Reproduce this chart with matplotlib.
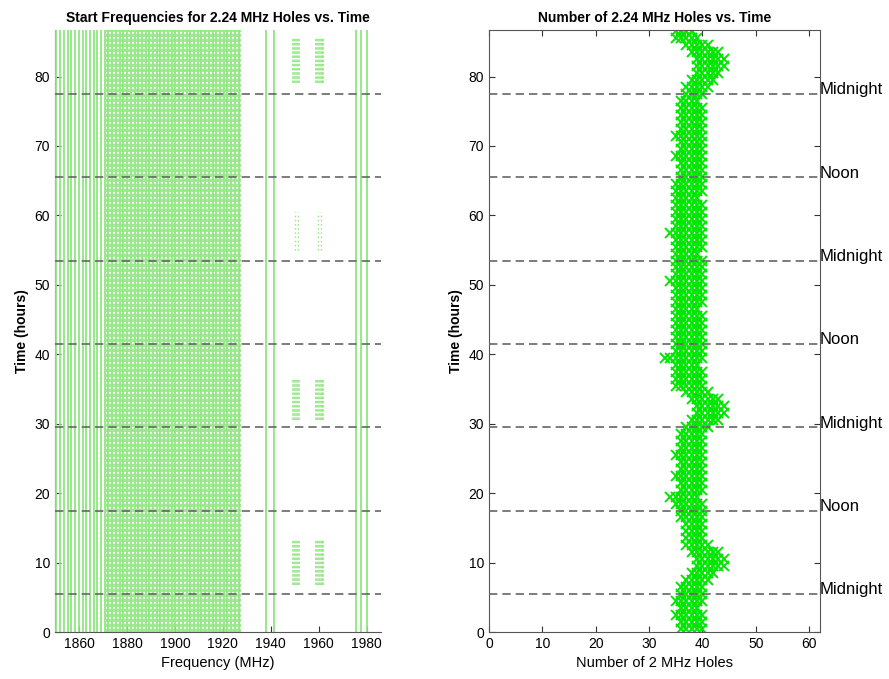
import numpy as np
import matplotlib
matplotlib.use("Agg")
import matplotlib.pyplot as plt
from matplotlib.transforms import blended_transform_factory

plt.rcParams['font.family'] = ['Liberation Sans', 'DejaVu Sans']

# ---- left panel: start frequencies (MHz) of the holes ----
# columns seen over the whole run (solid lines)
solid_freqs = [1850.6, 1852.2, 1853.7, 1855.3, 1856.8, 1858.4, 1859.9, 1861.5,
               1863.0, 1864.6, 1866.1, 1867.7, 1869.2,
               1870.8, 1872.3, 1873.9, 1875.4, 1877.0, 1878.5, 1880.1, 1881.6,
               1883.2, 1884.7, 1886.3, 1887.8, 1889.4, 1890.9, 1892.5, 1894.0,
               1895.6, 1897.1, 1898.7, 1900.2, 1901.8, 1903.3, 1904.9, 1906.4,
               1908.0, 1909.5, 1911.1, 1912.6, 1914.2, 1915.7, 1917.3, 1918.8,
               1920.4, 1921.9, 1923.5, 1925.0, 1926.6,
               1938.0, 1941.5, 1975.5, 1977.5, 1980.0]
# in-between columns of the busy band, seen on and off
dotted_freqs = [1871.6, 1873.1, 1874.7, 1876.2, 1877.8, 1879.3, 1880.9, 1882.4,
                1884.0, 1885.5, 1887.1, 1888.6, 1890.2, 1891.7, 1893.3, 1894.8,
                1896.4, 1897.9, 1899.5, 1901.0, 1902.6, 1904.1, 1905.7, 1907.2,
                1908.8, 1910.3, 1911.9, 1913.4, 1915.0, 1916.5, 1918.1, 1919.6,
                1921.2, 1922.7, 1924.3, 1925.8, 1927.3]
# two small groups that show up only for a few hours each day
blob_freqs = [1949.2, 1950.0, 1950.8, 1951.6, 1958.8, 1959.6, 1960.4, 1961.2, 1962.0]
blob_windows = [(6.8, 13.3), (30.5, 36.5), (79.0, 85.5)]
sparse_freqs = [1950.0, 1951.2, 1959.6, 1961.0]
sparse_windows = [(55.0, 60.5)]

# ---- right panel: hourly range of the hole count ----
hours = list(range(87))
count_lo = [36, 36, 35, 36, 35, 36, 36, 37, 38, 39, 39, 38, 37, 37, 37, 37, 36, 36,
            35, 34, 36, 36, 35, 36, 36, 35, 36, 36, 36, 37, 38, 39, 39, 38, 37, 35,
            35, 35, 35, 33, 35, 35, 35, 35, 35, 35, 35, 35, 35, 35, 34, 35, 35, 35,
            35, 35, 35, 34, 35, 35, 35, 35, 35, 35, 35, 36, 36, 36, 35, 36, 36, 35,
            36, 36, 36, 36, 36, 37, 37, 38, 39, 39, 39, 38, 37, 35, 35]
count_hi = [40, 40, 40, 39, 40, 40, 40, 41, 42, 44, 44, 43, 41, 40, 40, 40, 40, 40,
            40, 39, 40, 40, 40, 40, 40, 40, 40, 40, 40, 41, 43, 44, 44, 43, 41, 40,
            40, 40, 39, 40, 40, 40, 40, 40, 40, 40, 39, 40, 40, 40, 40, 40, 40, 40,
            39, 40, 40, 40, 40, 40, 40, 40, 39, 40, 40, 40, 40, 40, 40, 40, 40, 40,
            40, 40, 40, 40, 39, 40, 41, 42, 43, 44, 44, 43, 41, 39, 38]

midnight_times = [5.5, 29.5, 53.5, 77.5]
noon_times = [17.5, 41.5, 65.5]
t_end = 86.7

light_green = '#8fe67f'
bright_green = '#00e600'
dash_color = '#666666'

fig = plt.figure(figsize=(8.89, 6.79), dpi=100)
ax1 = fig.add_axes([0.0619, 0.0692, 0.3667, 0.8866])
ax2 = fig.add_axes([0.5500, 0.0692, 0.3723, 0.8866])

# left panel
ax1.vlines(solid_freqs, 0, t_end, color=light_green, lw=1.3)
ax1.vlines(dotted_freqs, 0, t_end, color=light_green, lw=1.2, linestyles=(0, (2, 1)))
for lo, hi in blob_windows:
    ax1.vlines(blob_freqs, lo, hi, color=light_green, lw=1.2, linestyles=(0, (1.5, 1)))
for lo, hi in sparse_windows:
    ax1.vlines(sparse_freqs, lo, hi, color=light_green, lw=1.0, linestyles=(0, (1, 2)))

# right panel
for h, lo, hi in zip(hours, count_lo, count_hi):
    vals = np.arange(lo, hi + 1)
    ax2.plot(vals, np.full(len(vals), h + 0.5), 'x', color=bright_green,
             markersize=7, mew=1.4)

for ax in (ax1, ax2):
    for t in midnight_times + noon_times:
        ax.axhline(t, color=dash_color, lw=1.2, dashes=(5, 3), zorder=3)
    ax.set_ylim(0, t_end)
    ax.set_yticks(range(0, 81, 10))
    ax.tick_params(direction='in', length=4, labelsize=10, colors='#333333',
                   labelcolor='black')
    ax.set_ylabel('Time (hours)', fontsize=10, fontweight='bold')
    for s in ax.spines.values():
        s.set_color('#555555')

ax1.set_xlim(1850, 1986)
ax1.set_xticks(range(1860, 1981, 20))
ax1.spines['top'].set_visible(False)
ax1.spines['right'].set_visible(False)
ax1.spines['left'].set_zorder(0)
ax1.set_xlabel('Frequency (MHz)', fontsize=10.5)
ax1.set_title('Start Frequencies for 2.24 MHz Holes vs. Time', fontsize=10,
              fontweight='bold', pad=6)

ax2.set_xlim(0, 62)
ax2.set_xticks(range(0, 61, 10))
ax2.tick_params(top=True, right=True)
ax2.set_xlabel('Number of 2 MHz Holes', fontsize=10.5)
ax2.set_title('Number of 2.24 MHz Holes vs. Time', fontsize=10,
              fontweight='bold', pad=6)

tr = blended_transform_factory(ax2.transAxes, ax2.transData)
for t in midnight_times:
    ax2.text(1.0, t + 0.6, 'Midnight', transform=tr, ha='left', va='center', fontsize=12)
for t in noon_times:
    ax2.text(1.0, t + 0.6, 'Noon', transform=tr, ha='left', va='center', fontsize=12)

fig.savefig('out.png', dpi=100)
